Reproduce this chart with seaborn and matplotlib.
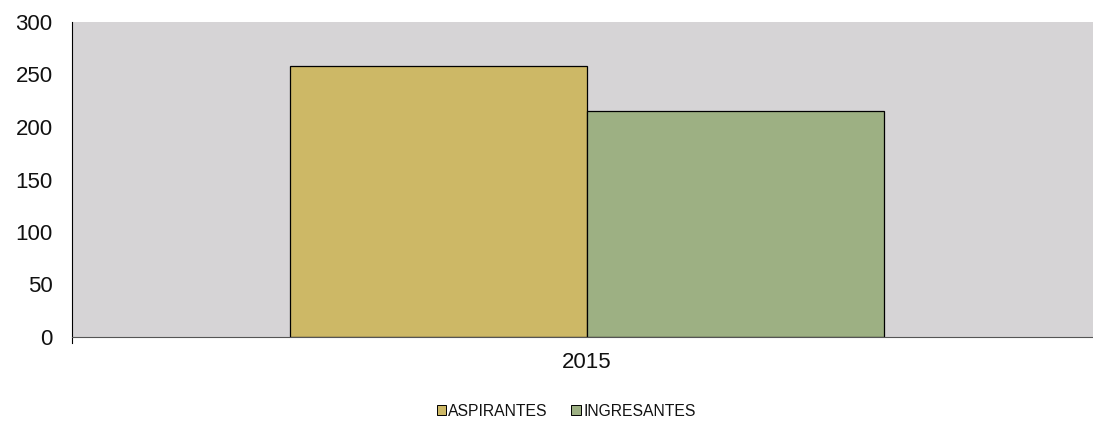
import pandas as pd
import matplotlib.pyplot as plt
import seaborn as sns
from matplotlib.patches import Patch

# datos
years = ['2015']
series = ['ASPIRANTES', 'INGRESANTES']
aspirantes = [258]
ingresantes = [215]
colors = ['#CDB866', '#9DB083']

df = pd.DataFrame({
    'año': years * 2,
    'serie': [series[0]] * len(years) + [series[1]] * len(years),
    'valor': aspirantes + ingresantes,
})

sns.set_style('white')
plt.rcParams['font.family'] = ['Liberation Sans', 'DejaVu Sans']

fig = plt.figure(figsize=(10.93, 4.25), dpi=100)
ax = fig.add_axes([72 / 1093, 1 - 337 / 425, 1030 / 1093, 315 / 425])
ax.set_facecolor('#D6D4D6')

sns.barplot(data=df, x='año', y='valor', hue='serie', palette=colors,
            width=0.576, edgecolor='black', linewidth=0.9, saturation=1,
            legend=False, ax=ax)

ax.set_ylim(0, 300)
ax.set_xlim(-0.5, 0.5)
ax.set_yticks(range(0, 301, 50))
ax.set_xlabel('')
ax.set_ylabel('')
ax.tick_params(axis='y', labelsize=16, length=0, pad=14, labelcolor='#111111')
ax.tick_params(axis='x', labelsize=16, length=0, pad=11, labelcolor='#111111')
for s in ['top', 'right']:
    ax.spines[s].set_visible(False)
ax.spines['left'].set_color('black')
ax.spines['left'].set_linewidth(0.8)
ax.spines['bottom'].set_color('#555555')
ax.spines['bottom'].set_linewidth(0.8)
ax.spines['left'].set_bounds(-6, 300)

handles = [Patch(facecolor=c, edgecolor='black', linewidth=0.7, label=s)
           for c, s in zip(colors, series)]
fig.legend(handles=handles, loc='center', bbox_to_anchor=(566 / 1093, 1 - 411 / 425),
           ncol=2, frameon=False, fontsize=11.3, handlelength=0.6, handleheight=0.6,
           handletextpad=0.15, columnspacing=1.5, labelcolor='#111111')

plt.savefig('out.png', dpi=100)
